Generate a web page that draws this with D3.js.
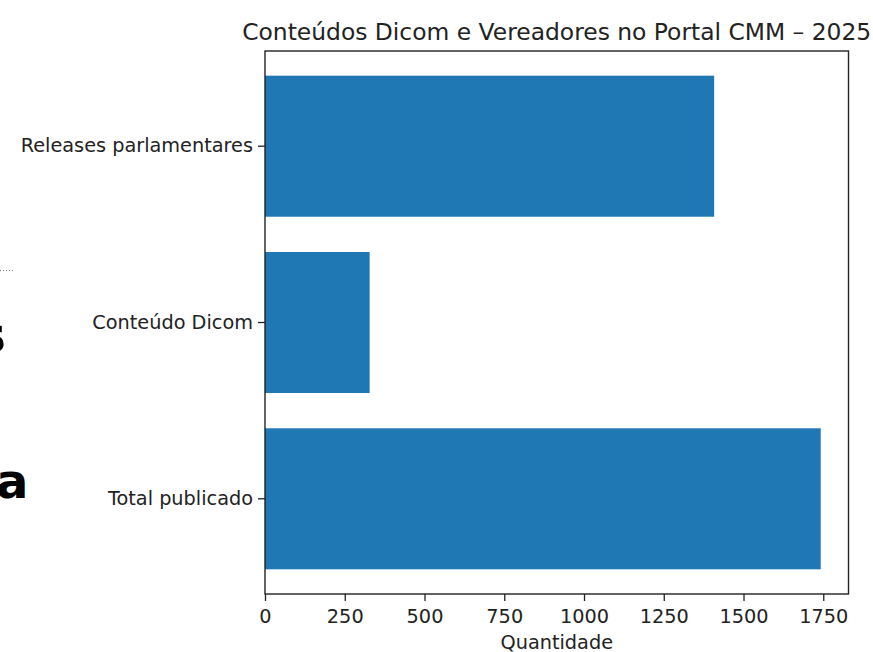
<!DOCTYPE html>
<html>
<head>
<meta charset="utf-8">
<script src="https://cdn.jsdelivr.net/npm/d3@7"></script>
<style>
  body { margin: 0; background: #fff; }
  svg { display: block; font-family: "DejaVu Sans", sans-serif; }
</style>
</head>
<body>
<div id="chart"></div>
<script>
// data
const categories = ["Releases parlamentares", "Conteúdo Dicom", "Total publicado"];
const values = [1408, 328, 1742];
const xTicks = [0, 250, 500, 750, 1000, 1250, 1500, 1750];
const title = "Conteúdos Dicom e Vereadores no Portal CMM – 2025";
const xLabel = "Quantidade";

// chart size
const width = 873;
const height = 652;
const plot = { left: 265, right: 848.5, top: 51, bottom: 594 };
const labelSize = 19.3;

const svg = d3.select("#chart")
  .append("svg")
  .attr("width", width)
  .attr("height", height);

// scales
const xScale = d3.scaleLinear()
  .domain([0, d3.max(values) * 1.05])
  .range([plot.left, plot.right]);

const yScale = d3.scaleBand()
  .domain(categories)
  .range([plot.top, plot.bottom])
  .paddingInner(0.2)
  .paddingOuter(0.14);

// bars
svg.selectAll(".bar")
  .data(categories.map((c, i) => ({ cat: c, value: values[i] })))
  .enter().append("rect")
  .attr("class", "bar")
  .attr("x", xScale(0))
  .attr("y", d => yScale(d.cat))
  .attr("width", d => xScale(d.value) - xScale(0))
  .attr("height", yScale.bandwidth())
  .attr("fill", "#1f77b4");

// frame
svg.append("rect")
  .attr("x", plot.left)
  .attr("y", plot.top)
  .attr("width", plot.right - plot.left)
  .attr("height", plot.bottom - plot.top)
  .attr("fill", "none")
  .attr("stroke", "#222")
  .attr("stroke-width", 1.4);

// x-axis
const xAxis = svg.append("g")
  .attr("transform", `translate(0,${plot.bottom})`)
  .call(d3.axisBottom(xScale).tickValues(xTicks).tickSize(7).tickPadding(8).tickFormat(d3.format("d")));
xAxis.select(".domain").remove();
xAxis.selectAll("line").attr("stroke", "#222").attr("stroke-width", 1.3);
xAxis.selectAll("text").attr("font-size", labelSize).attr("fill", "#222").attr("font-family", "DejaVu Sans");

// y-axis
const yAxis = svg.append("g")
  .attr("transform", `translate(${plot.left},0)`)
  .call(d3.axisLeft(yScale).tickSize(7).tickPadding(5));
yAxis.select(".domain").remove();
yAxis.selectAll("line").attr("stroke", "#222").attr("stroke-width", 1.3);
yAxis.selectAll("text").attr("font-size", labelSize).attr("fill", "#222").attr("font-family", "DejaVu Sans");

// title + axis label
svg.append("text")
  .attr("x", (plot.left + plot.right) / 2)
  .attr("y", 40)
  .attr("text-anchor", "middle")
  .attr("font-size", 23.4)
  .attr("fill", "#222")
  .text(title);

svg.append("text")
  .attr("x", (plot.left + plot.right) / 2)
  .attr("y", 649)
  .attr("text-anchor", "middle")
  .attr("font-size", labelSize)
  .attr("fill", "#222")
  .text(xLabel);

// stray bits of the surrounding page
svg.append("line")
  .attr("x1", 0).attr("x2", 13)
  .attr("y1", 270.5).attr("y2", 270.5)
  .attr("stroke", "#777")
  .attr("stroke-dasharray", "1,2");

svg.append("text")
  .attr("x", 6)
  .attr("y", 352)
  .attr("text-anchor", "end")
  .attr("font-size", 50)
  .attr("font-weight", "bold")
  .attr("fill", "#000")
  .text("s");

svg.append("text")
  .attr("x", -4)
  .attr("y", 498)
  .attr("font-size", 48)
  .attr("font-weight", "bold")
  .attr("fill", "#000")
  .text("a");
</script>
</body>
</html>
